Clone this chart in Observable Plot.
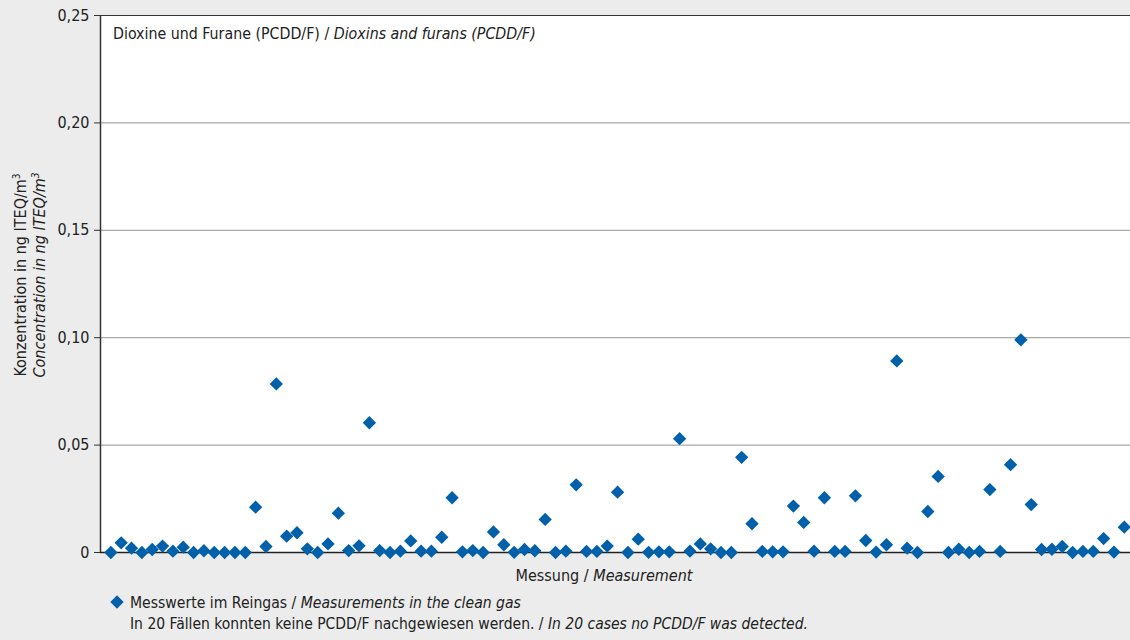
<!DOCTYPE html>
<html>
<head>
<meta charset="utf-8">
<script src="https://cdn.jsdelivr.net/npm/d3@7"></script>
<script src="https://cdn.jsdelivr.net/npm/@observablehq/plot@0.6"></script>
<style>
  html, body { margin: 0; padding: 0; background: #ebeceb; }
  #chart svg { display: block; }
</style>
</head>
<body>
<div id="chart"></div>
<script>
// Concentration in ng ITEQ/m³, one value per measurement (in order)
const concentrations = [
  0, 0.0045, 0.002, 0, 0.0014, 0.003, 0.0006, 0.0025, 0, 0.0008,
  0, 0, 0, 0, 0.0211, 0.0028, 0.0785, 0.0076, 0.0092, 0.0017,
  0, 0.004, 0.0183, 0.0009, 0.0031, 0.0604, 0.0009, 0, 0.0006, 0.0054,
  0.0006, 0.0006, 0.0071, 0.0255, 0.0003, 0.0009, 0, 0.0096, 0.0036, 0.0001,
  0.0014, 0.0008, 0.0154, 0, 0.0006, 0.0315, 0.0005, 0.0005, 0.003, 0.0281,
  0, 0.0062, 0.0001, 0.0003, 0.0003, 0.053, 0.0006, 0.004, 0.0017, 0,
  0, 0.0443, 0.0134, 0.0005, 0.0003, 0.0003, 0.0216, 0.014, 0.0006, 0.0255,
  0.0005, 0.0005, 0.0264, 0.0056, 0.0002, 0.0036, 0.0892, 0.002, 0, 0.0191,
  0.0354, 0, 0.0015, 0, 0.0005, 0.0293, 0.0005, 0.0409, 0.099, 0.0223,
  0.0014, 0.0015, 0.0028, 0, 0.0005, 0.0005, 0.0065, 0.0002, 0.0118
];
const yTicks = [0, 0.05, 0.10, 0.15, 0.20, 0.25];
const gridValues = [0.05, 0.10, 0.15, 0.20];
const titleDe = "Dioxine und Furane (PCDD/F) / ";
const titleEn = "Dioxins and furans (PCDD/F)";
const xLabelDe = "Messung / ";
const xLabelEn = "Measurement";
const yLabelDe = "Konzentration in ng ITEQ/m";
const yLabelEn = "Concentration in ng ITEQ/m";
const legendDe = "Messwerte im Reingas / ";
const legendEn = "Measurements in the clean gas";
const noteDe = "In 20 Fällen konnten keine PCDD/F nachgewiesen werden. / ";
const noteEn = "In 20 cases no PCDD/F was detected.";

const data = concentrations.map((v, i) => ({measurement: i + 1, value: v}));

const FONT = '"Liberation Sans Narrow", "DejaVu Sans Condensed", "Liberation Sans", sans-serif';
const BLUE = "#0061aa";
const W = 1130, H = 640;
const mL = 100, mT = 15, mR = 0, mB = 88;

const fmt = d => d === 0 ? "0" : d.toFixed(2).replace(".", ",");

const chart = Plot.plot({
  width: W,
  height: H,
  marginLeft: mL,
  marginTop: mT,
  marginRight: mR,
  marginBottom: mB,
  style: {background: "#ebeceb", fontFamily: FONT, fontSize: "16px", color: "#222"},
  x: {domain: [0, 99.6], axis: null},
  y: {domain: [0, 0.25]},
  marks: [
    Plot.frame({fill: "white", stroke: null}),
    Plot.ruleY(gridValues, {stroke: "#a8a8a8", strokeWidth: 1.2}),
    Plot.ruleY([0.25], {stroke: "#333", strokeWidth: 1.2}),
    Plot.ruleX([0], {stroke: "#333", strokeWidth: 1.5}),
    Plot.axisY({ticks: yTicks, tickFormat: fmt, tickSize: 6, tickPadding: 5, stroke: "#333", fill: "#222", fontSize: 16, label: null}),
    Plot.ruleY([0], {stroke: "#222", strokeWidth: 1.5}),
    Plot.dot(data, {x: "measurement", y: "value", symbol: "diamond2", r: 6, fill: BLUE, stroke: null})
  ]
});

document.getElementById("chart").append(chart);

// Annotation texts with mixed upright / italic parts
const svg = d3.select(chart);
const g = svg.append("g").attr("font-family", FONT).attr("fill", "#222").attr("font-size", 16);

function twoPart(x, y, de, en, anchor, size) {
  const t = g.append("text").attr("x", x).attr("y", y).attr("text-anchor", anchor || "start");
  if (size) t.attr("font-size", size);
  t.append("tspan").text(de);
  t.append("tspan").attr("font-style", "italic").text(en);
  return t;
}

// title inside plot
twoPart(113, 39, titleDe, titleEn, "start", 15.8);
// x axis label
twoPart(604, 581, xLabelDe, xLabelEn, "middle");
// y axis label (two rotated lines)
const yl = g.append("g").attr("transform", "translate(26,275) rotate(-90)");
const t1 = yl.append("text").attr("text-anchor", "middle").attr("y", 0);
t1.append("tspan").text(yLabelDe);
t1.append("tspan").attr("font-size", 10).attr("dy", -6).text("3");
const t2 = yl.append("text").attr("text-anchor", "middle").attr("y", 19).attr("font-style", "italic");
t2.append("tspan").text(yLabelEn);
t2.append("tspan").attr("font-size", 10).attr("dy", -6).text("3");
// legend
g.append("path").attr("d", d3.symbol(d3.symbolDiamond2, 6 * 6 * Math.PI)()).attr("transform", "translate(117,602)").attr("fill", BLUE);
twoPart(130, 608, legendDe, legendEn, "start", 15.6);
twoPart(130, 629, noteDe, noteEn, "start", 15.5);
</script>
</body>
</html>
